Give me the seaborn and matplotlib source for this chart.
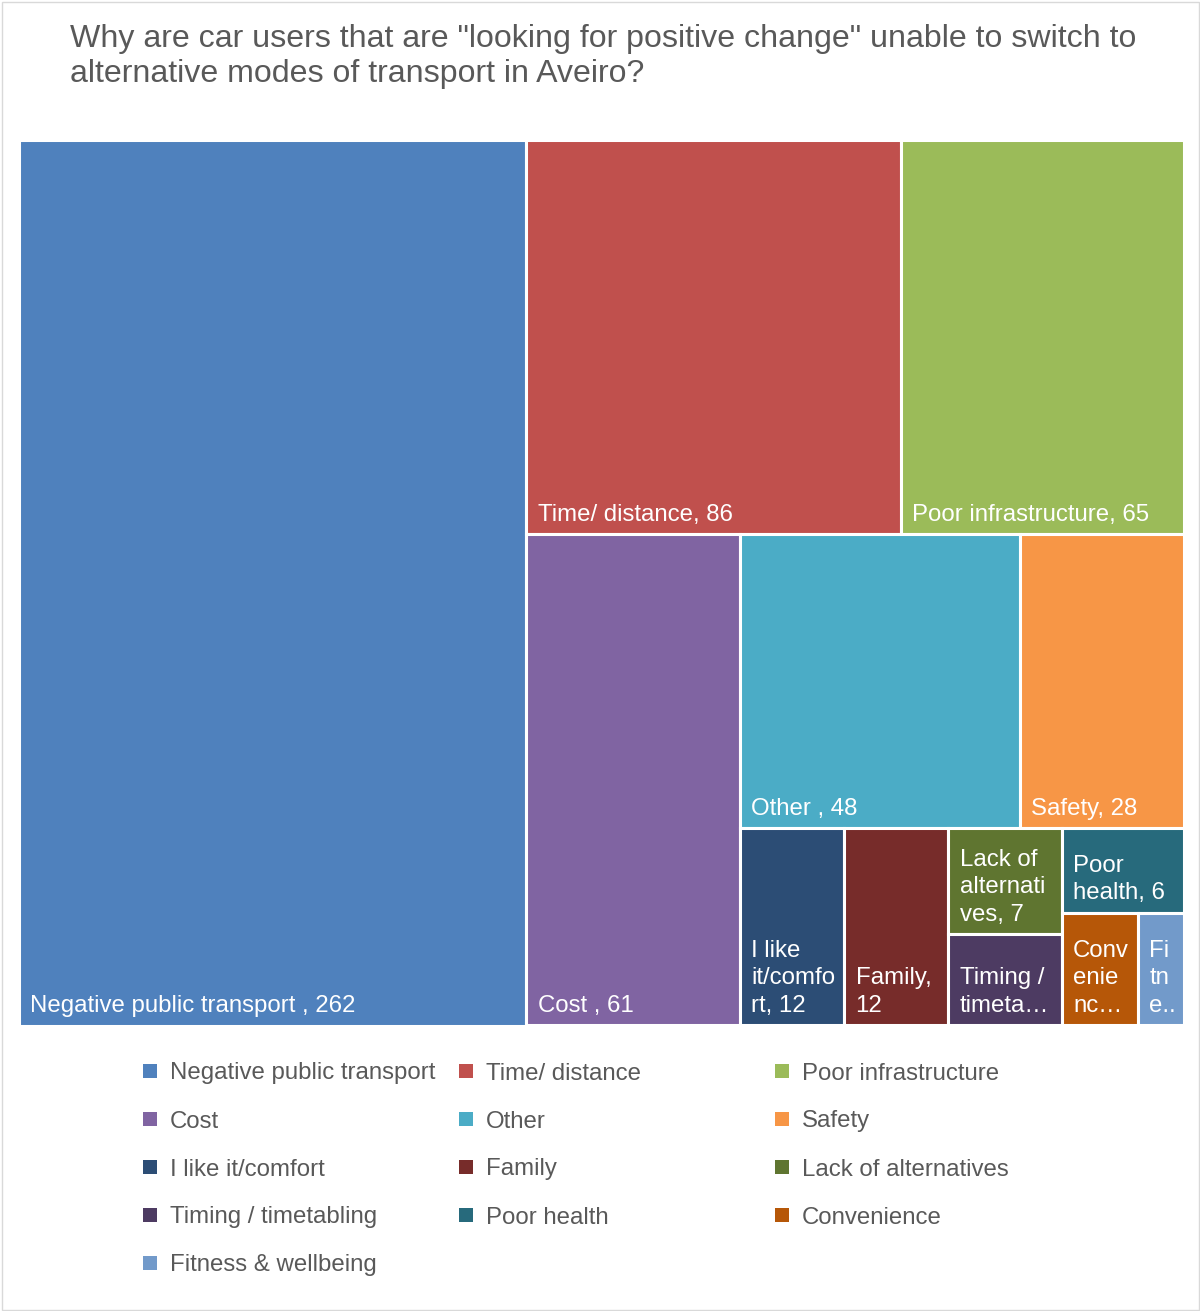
import matplotlib
matplotlib.use("Agg")
import matplotlib.pyplot as plt
from matplotlib.patches import Rectangle
from matplotlib.font_manager import FontProperties
import seaborn as sns

# Chart data
categories = [
    "Negative public transport ", "Time/ distance", "Poor infrastructure",
    "Cost ", "Other ", "Safety",
    "I like it/comfort", "Family", "Lack of alternatives",
    "Timing / timetabling", "Poor health", "Convenience",
    "Fitness & wellbeing",
]
values = [262, 86, 65, 61, 48, 28, 12, 12, 7, 6, 6, 5, 3]
colors = [
    "#4F81BD", "#C0504D", "#9BBB59", "#8064A2", "#4BACC6", "#F79646",
    "#2C4D75", "#772C2A", "#5F7530", "#4D3B62", "#276A7C", "#B65708",
    "#729ACA",
]
title = ('Why are car users that are "looking for positive change" unable to switch to\n'
         'alternative modes of transport in Aveiro?')

sns.set_theme(style="white")
plt.rcParams["font.family"] = ["Liberation Sans", "DejaVu Sans"]

W, H = 1200, 1311
LABEL_PX = 24
LABEL_PT = LABEL_PX * 72 / 100
LINE_PX = 27.5
TEXT_GREY = "#595959"


def squarify(vals, x, y, w, h, target=0.8):
    # squarified treemap, aspect ratios judged against a target w/h ratio
    total = float(sum(vals))
    areas = [v * w * h / total for v in vals]
    rects = []

    def worst(row, side, vertical):
        t = sum(row) / side
        score = 0
        for a in row:
            l = a / t
            asp = t / l if vertical else l / t
            score = max(score, asp / target, target / asp)
        return score

    i = 0
    while i < len(areas):
        vertical = w >= h
        side = h if vertical else w
        row = [areas[i]]
        j = i + 1
        while j < len(areas) and worst(row + [areas[j]], side, vertical) < worst(row, side, vertical):
            row.append(areas[j])
            j += 1
        t = sum(row) / side
        pos = y if vertical else x
        for a in row:
            l = a / t
            if vertical:
                rects.append((x, pos, t, l))
            else:
                rects.append((pos, y, l, t))
            pos += l
        if vertical:
            x += t
            w -= t
        else:
            y += t
            h -= t
        i = j
    return rects


def wrap_label(text, max_w, max_lines, measure):
    lines, cur = [], ""
    for word in text.split(" "):
        cand = word if cur == "" else cur + " " + word
        if measure(cand) <= max_w:
            cur = cand
            continue
        if cur:
            lines.append(cur)
            cur = ""
        while len(word) > 1 and measure(word) > max_w:
            k = len(word) - 1
            while k > 1 and measure(word[:k]) > max_w:
                k -= 1
            lines.append(word[:k])
            word = word[k:]
        cur = word
    if cur:
        lines.append(cur)
    if len(lines) > max_lines:
        lines = lines[:max_lines]
        last = lines[-1]
        k = len(last)
        while k > 1 and measure(last[:k] + "\u2026") > max_w:
            k -= 1
        if measure(last[:k] + "\u2026") <= max_w:
            lines[-1] = last[:k] + "\u2026"
        else:
            lines[-1] = last[:1] + ".."
    return lines


fig = plt.figure(figsize=(W / 100, H / 100), dpi=100)
fig.patch.set_facecolor("white")

# treemap region in pixel units (y grows downward)
left, top, tw, th = 18.5, 139.5, 1165, 886
ax = fig.add_axes([left / W, 1 - (top + th) / H, tw / W, th / H])
ax.set_xlim(0, tw)
ax.set_ylim(th, 0)
ax.axis("off")

renderer = fig.canvas.get_renderer()
fp = FontProperties(family=["Liberation Sans", "DejaVu Sans"], size=LABEL_PT)


def measure(s):
    return renderer.get_text_width_height_descent(s, fp, ismath=False)[0]


rects = squarify(values, 0, 0, tw, th)
for (rx, ry, rw, rh), name, val, col in zip(rects, categories, values, colors):
    ax.add_patch(Rectangle((rx, ry), rw, rh, facecolor=col, edgecolor="white", linewidth=2.2))
    max_lines = max(1, int((rh - 20) // LINE_PX))
    lines = wrap_label(f"{name}, {val}", rw - 19.6, max_lines, measure)
    base = ry + rh - 13.5
    for k, line in enumerate(reversed(lines)):
        ax.text(rx + 11.5, base - k * LINE_PX, line, fontproperties=fp, color="white",
                ha="left", va="baseline")

# title
fig.text(70 / W, 1 - 24 / H, title, ha="left", va="top", fontsize=23.1,
         color=TEXT_GREY, linespacing=1.2)

# legend, filled row by row in three columns
col_x = [143, 459, 775]
for idx, (name, col) in enumerate(zip(categories, colors)):
    r, c = divmod(idx, 3)
    cy = 1071 + r * 48
    fig.patches.append(Rectangle((col_x[c] / W, 1 - (cy + 7) / H), 14 / W, 14 / H,
                                 transform=fig.transFigure, facecolor=col, edgecolor="none"))
    fig.text((col_x[c] + 27) / W, 1 - cy / H, name.strip(), ha="left", va="center_baseline",
             fontsize=LABEL_PT, color=TEXT_GREY)

# chart border
fig.patches.append(Rectangle((1.5 / W, 1.5 / H), 1 - 3 / W, 1 - 3 / H, transform=fig.transFigure,
                             facecolor="none", edgecolor="#D9D9D9", linewidth=1))

fig.savefig("out.png", dpi=100)
